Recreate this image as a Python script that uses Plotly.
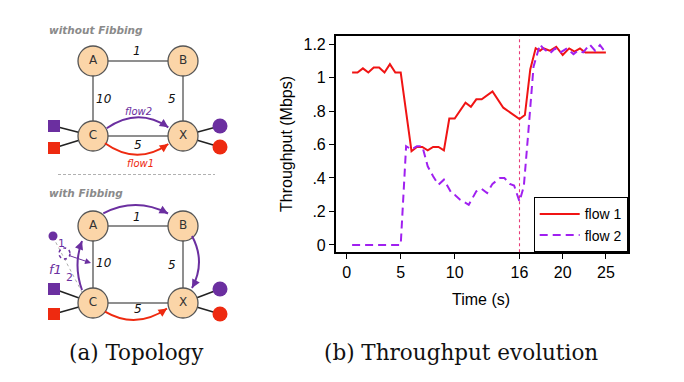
import math
import plotly.graph_objects as go

# ---------------- throughput chart data ----------------
F1_T = [0.5, 1.0, 1.5, 2.0, 2.5, 3.0, 3.5, 4.0, 4.5, 5.0, 6.0, 6.5, 7.0, 7.5, 8.0, 8.5, 9.0,
        9.5, 10.0, 10.5, 11.0, 11.5, 12.0, 12.5, 13.5, 14.5, 16.0, 16.5, 17.0, 17.5, 17.9,
        18.2, 18.8, 19.4, 20.0, 20.6, 21.1, 21.6, 22.1, 24.0]
F1_V = [1.03, 1.03, 1.055, 1.03, 1.06, 1.06, 1.03, 1.08, 1.03, 1.03, 0.56, 0.585, 0.585, 0.565,
        0.585, 0.585, 0.565, 0.755, 0.755, 0.80, 0.85, 0.825, 0.87, 0.87, 0.917, 0.82, 0.752,
        0.776, 1.05, 1.175, 1.16, 1.175, 1.16, 1.184, 1.135, 1.174, 1.155, 1.174, 1.15, 1.15]
F2_T = [0.5, 5.0, 5.5, 6.0, 6.5, 7.0, 7.5, 8.0, 8.5, 9.0, 9.7, 10.0, 10.5, 11.3, 12.0, 12.5,
        13.0, 13.5, 14.2, 14.6, 15.1, 15.5, 16.0, 16.4, 16.8, 17.3, 17.9, 18.2, 18.8, 19.3,
        19.75, 20.4, 21.0, 21.4, 21.9, 22.5, 23.0, 23.45, 24.0]
F2_V = [0.0, 0.0, 0.59, 0.57, 0.59, 0.59, 0.47, 0.41, 0.36, 0.39, 0.31, 0.30, 0.27, 0.24, 0.32,
        0.335, 0.31, 0.365, 0.40, 0.40, 0.365, 0.355, 0.26, 0.35, 0.66, 1.065, 1.198, 1.174,
        1.144, 1.174, 1.148, 1.174, 1.14, 1.16, 1.15, 1.198, 1.16, 1.194, 1.148]
SERIES_NAMES = ["flow 1", "flow 2"]
X_TICKS = [0, 5, 10, 16, 20, 24]
X_TICK_TEXT = ["0", "5", "10", "16", "20", "25"]
Y_TICKS = [0, 0.2, 0.4, 0.6, 0.8, 1.0, 1.2]
Y_TICK_TEXT = ["0", ".2", ".4", ".6", ".8", "1", "1.2"]
CHANGE_TIME = 16

# ---------------- topology diagram data ----------------
NODES = ["A", "B", "C", "X"]
LINKS = [("A", "B", "1"), ("A", "C", "10"), ("B", "X", "5"), ("C", "X", "5")]
PANEL_TITLES = ["without Fibbing", "with Fibbing"]
CAPTIONS = ["(a) Topology", "(b) Throughput evolution"]

# layout geometry of the diagram (pixel-like units of the diagram axis)
TOP = {"A": (93, 61), "B": (183, 61), "C": (93, 136), "X": (183, 136)}
BOT = {"A": (93, 226), "B": (183, 226), "C": (93, 303), "X": (183, 303)}
TOP_LBL = [(137, 51), (104, 99), (172, 99), (138, 145)]
BOT_LBL = [(137, 217), (104, 263), (172, 265), (138, 309)]

RED = "#f01414"
PURPLE = "#a020f0"
D_PURPLE = "#6b2fa0"
D_RED = "#ee2a10"
PEACH = "#fbd5a8"

W, H = 684, 382
PL, PR, PT, PB = 335.7, 627.7, 35.7, 252.3

fig = go.Figure()

# ---- chart traces ----
fig.add_trace(go.Scatter(x=F1_T, y=F1_V, mode="lines", name=SERIES_NAMES[0],
                         line=dict(color=RED, width=2), xaxis="x", yaxis="y"))
fig.add_trace(go.Scatter(x=F2_T, y=F2_V, mode="lines", name=SERIES_NAMES[1],
                         line=dict(color=PURPLE, width=2, dash="8px,5px"), xaxis="x", yaxis="y"))

shapes = []
annotations = []

shapes.append(dict(type="line", xref="x", yref="y domain", x0=CHANGE_TIME, x1=CHANGE_TIME,
                   y0=0, y1=1, line=dict(color="rgb(232,60,120)", width=1.1, dash="dot"),
                   layer="below"))

# ---- diagram ----
def dtrace(xs, ys, **kw):
    fig.add_trace(go.Scatter(x=xs, y=ys, xaxis="x2", yaxis="y2", showlegend=False,
                             hoverinfo="skip", **kw))

def arrowhead(tip, tail, color, width, size=0.85):
    annotations.append(dict(x=tip[0], y=tip[1], ax=tail[0], ay=tail[1],
                            xref="x2", yref="y2", axref="x2", ayref="y2", text="",
                            font=dict(size=1), borderpad=0,
                            showarrow=True, arrowhead=2, arrowsize=size, arrowwidth=width,
                            arrowcolor=color, standoff=0))

def arc(p0, c, p1, color, width=2):
    shapes.append(dict(type="path", xref="x2", yref="y2",
                       path=f"M {p0[0]},{p0[1]} Q {c[0]},{c[1]} {p1[0]},{p1[1]}",
                       line=dict(color=color, width=width)))
    dx, dy = p1[0] - c[0], p1[1] - c[1]
    n = math.hypot(dx, dy)
    arrowhead(p1, (p1[0] - 6 * dx / n, p1[1] - 6 * dy / n), color, width)

for pos, lbl in ((TOP, TOP_LBL), (BOT, BOT_LBL)):
    c, x = pos["C"], pos["X"]
    # host links
    sq_p = (54, c[1] - (10 if pos is TOP else 14))
    sq_r = (54, c[1] + (12 if pos is TOP else 11))
    ci_p = (220, x[1] - (10 if pos is TOP else 14))
    ci_r = (220, x[1] + (11 if pos is TOP else 11))
    for a in (sq_p, sq_r):
        dtrace([a[0], c[0]], [a[1], c[1]], mode="lines", line=dict(color="#222", width=1.5))
    for a in (ci_p, ci_r):
        dtrace([x[0], a[0]], [x[1], a[1]], mode="lines", line=dict(color="#222", width=1.5))
    # links
    for (u, v, w), lp in zip(LINKS, lbl):
        dtrace([pos[u][0], pos[v][0]], [pos[u][1], pos[v][1]], mode="lines",
               line=dict(color="#8f8f8f", width=2))
        annotations.append(dict(x=lp[0], y=lp[1], xref="x2", yref="y2", text=f"<i>{w}</i>",
                                showarrow=False, font=dict(family="DejaVu Sans", size=12, color="#111")))
    dtrace([sq_p[0], sq_r[0]], [sq_p[1], sq_r[1]], mode="markers",
           marker=dict(symbol="square", size=12, color=[D_PURPLE, D_RED]))
    dtrace([ci_p[0], ci_r[0]], [ci_p[1], ci_r[1]], mode="markers",
           marker=dict(symbol="circle", size=15, color=[D_PURPLE, D_RED]))

# flows without fibbing
arc((106.7, 128.3), (138, 106.8), (168.3, 127.3), D_PURPLE)
arc((105, 143.3), (137, 166), (168.3, 144), D_RED)
annotations.append(dict(x=138, y=111, xref="x2", yref="y2", text="<i>flow2</i>", showarrow=False,
                        font=dict(family="DejaVu Sans", size=10, color=D_PURPLE)))
annotations.append(dict(x=140, y=163.5, xref="x2", yref="y2", text="<i>flow1</i>", showarrow=False,
                        font=dict(family="DejaVu Sans", size=10, color=D_RED)))

# flows with fibbing
arc((103.3, 213.3), (136, 196.6), (168, 213.5), D_PURPLE)
arc((192, 236), (206, 262), (192, 288), D_PURPLE)
arc((82, 290), (73, 265), (82, 241), D_PURPLE)
arc((105, 311.7), (136, 329.9), (167, 308.5), D_RED)

# fake node
dtrace([53, 84], [237, 296], mode="lines", line=dict(color="#9a9a9a", width=0.8, dash="dot"))
dtrace([53], [236], mode="markers", marker=dict(size=9, color=D_PURPLE))
shapes.append(dict(type="circle", xref="x2", yref="y2", x0=59, x1=70, y0=248, y1=259,
                   line=dict(color=D_PURPLE, width=1.5, dash="dot")))
dtrace([69, 89], [255.5, 262.3], mode="lines", line=dict(color=D_PURPLE, width=1))
arrowhead((91, 263), (86, 261.3), D_PURPLE, 1, size=1.2)
for t, p, s in (("1", (61, 243), 11), ("<i>f1</i>", (55, 269), 13), ("2", (69, 277), 11)):
    annotations.append(dict(x=p[0], y=p[1], xref="x2", yref="y2", text=t, showarrow=False,
                            font=dict(family="DejaVu Sans", size=s, color=D_PURPLE)))

# nodes on top
for pos in (TOP, BOT):
    dtrace([pos[n][0] for n in NODES], [pos[n][1] for n in NODES], mode="markers+text",
           text=NODES, textposition="middle center",
           textfont=dict(family="DejaVu Sans", size=12, color="#333"),
           marker=dict(size=30, color=PEACH, line=dict(color="#555", width=1.3)))

# separator
shapes.append(dict(type="line", xref="x2", yref="y2", x0=58, x1=215, y0=174.5, y1=174.5,
                   line=dict(color="#b0b0b0", width=1, dash="3px,2px")))

for t, yy in zip(PANEL_TITLES, (30, 193)):
    annotations.append(dict(x=47, y=yy, xref="x2", yref="y2", xanchor="left",
                            text=f"<i><b>{t}</b></i>", showarrow=False,
                            font=dict(family="DejaVu Sans", size=10.5, color="#8a8a8a")))

# captions
for t, cx in zip(CAPTIONS, (136, 461)):
    annotations.append(dict(x=cx / W, y=1 - 352 / H, xref="paper", yref="paper", text=t,
                            showarrow=False, xanchor="center", yanchor="middle",
                            font=dict(family="DejaVu Serif", size=21.5, color="#111")))

# axis titles
annotations.append(dict(x=287 / W, y=1 - 144 / H, xref="paper", yref="paper",
                        text="Throughput (Mbps)", textangle=-90, showarrow=False,
                        xanchor="center", yanchor="middle",
                        font=dict(family="Liberation Sans", size=16, color="black")))
annotations.append(dict(x=481 / W, y=1 - 299 / H, xref="paper", yref="paper",
                        text="Time (s)", showarrow=False, xanchor="center", yanchor="middle",
                        font=dict(family="Liberation Sans", size=16, color="black")))

axis_common = dict(showgrid=False, zeroline=False, showline=True, mirror=True,
                   linecolor="black", linewidth=1.5, ticks="outside", ticklen=5,
                   tickwidth=1, tickcolor="black", automargin=False,
                   tickfont=dict(family="Liberation Sans", size=16, color="black"))

fig.update_layout(
    width=W, height=H, margin=dict(l=0, r=0, t=0, b=0),
    paper_bgcolor="white", plot_bgcolor="rgba(0,0,0,0)",
    xaxis=dict(domain=[PL / W, PR / W], range=[-1.02, 26.02], tickmode="array",
               tickvals=X_TICKS, ticktext=X_TICK_TEXT, ticklabelstandoff=0, **axis_common),
    yaxis=dict(domain=[1 - PB / H, 1 - PT / H], range=[-0.044, 1.25], tickmode="array",
               tickvals=Y_TICKS, ticktext=Y_TICK_TEXT, **axis_common),
    xaxis2=dict(domain=[0, 250 / W], range=[0, 250], visible=False, fixedrange=True),
    yaxis2=dict(domain=[0, 1], range=[H, 0], visible=False, fixedrange=True),
    legend=dict(x=PR / W, y=1 - PB / H, xanchor="right", yanchor="bottom",
                bgcolor="white", bordercolor="black", borderwidth=1,
                font=dict(family="Liberation Sans", size=14, color="black"),
                tracegroupgap=0, itemwidth=40),
    shapes=shapes, annotations=annotations,
)

fig.write_html("out.html", config={"displayModeBar": False},
               post_script="document.body.style.margin='0px';document.body.style.padding='0px';")
